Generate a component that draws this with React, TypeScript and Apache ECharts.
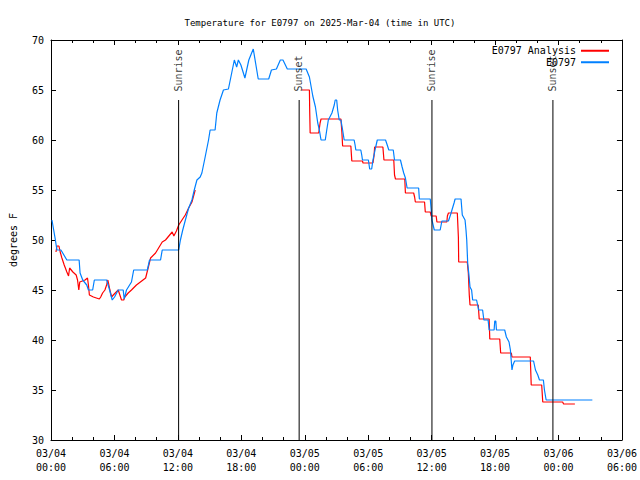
import React, { useEffect, useRef } from 'react';
import * as echarts from 'echarts';

// ---------- data (hours since 03/04 00:00 UTC, degrees F) ----------
const titleText = 'Temperature for E0797 on 2025-Mar-04 (time in UTC)';
const seriesNames = ['E0797 Analysis', 'E0797'];

const xTickLabels = [
  '03/04\n00:00', '03/04\n06:00', '03/04\n12:00', '03/04\n18:00',
  '03/05\n00:00', '03/05\n06:00', '03/05\n12:00', '03/05\n18:00',
  '03/06\n00:00', '03/06\n06:00',
];

const obsHours = [
  0.09, 0.40, 0.56, 0.94, 1.50, 2.66, 2.75, 3.00, 3.38, 3.54,
  3.94, 4.10, 5.26, 5.54, 5.79, 6.01, 6.36, 6.83, 6.92, 7.14,
  7.61, 7.82, 9.11, 9.32, 10.36, 10.52, 12.08, 12.24, 12.46, 12.71,
  13.02, 13.33, 13.55, 13.80, 14.11, 14.27, 14.58, 14.90, 15.05, 15.52,
  15.68, 15.99, 16.31, 16.78, 17.09, 17.34, 17.56, 17.72, 17.96, 18.34,
  18.71, 19.13, 19.60, 20.59, 20.85, 21.32, 21.69, 21.94, 22.35, 24.13,
  24.44, 24.76, 25.01, 25.23, 25.38, 25.54, 25.94, 26.08, 26.23, 26.57,
  26.79, 26.88, 27.02, 27.11, 27.26, 27.42, 27.58, 27.73, 28.67, 28.76,
  28.83, 29.30, 29.39, 29.46, 30.02, 30.14, 30.33, 30.45, 30.71, 30.86,
  31.64, 31.80, 31.95, 32.37, 32.49, 33.05, 33.21, 33.36, 33.52, 33.68,
  34.77, 34.84, 35.87, 35.96, 36.03, 36.25, 36.81, 36.97, 37.59, 37.81,
  38.12, 38.22, 38.78, 38.90, 39.16, 39.25, 39.32, 39.41, 39.53, 39.63,
  39.78, 39.88, 40.25, 40.35, 40.44, 40.82, 40.94, 41.34, 41.44, 41.91,
  41.97, 42.07, 42.13, 42.91, 43.07, 43.32, 43.45, 43.54, 43.60, 43.69,
  43.85, 45.64, 45.82, 46.04, 46.20, 46.57, 46.67, 46.83, 51.20,
];
const obsTemps = [
  52.0, 50.1, 49.0, 49.0, 48.0, 48.0, 46.7, 46.0, 45.5, 45.0,
  45.0, 46.0, 46.0, 45.0, 44.0, 44.3, 45.0, 45.0, 44.1, 45.0,
  45.8, 47.0, 47.0, 48.0, 48.0, 49.0, 49.0, 50.0, 51.0, 52.0,
  53.2, 54.0, 55.0, 56.0, 56.3, 56.7, 58.3, 60.0, 61.0, 61.0,
  62.7, 64.0, 65.0, 65.1, 66.7, 68.0, 67.3, 68.0, 67.5, 66.2,
  68.0, 69.1, 66.1, 66.1, 67.0, 67.1, 68.0, 68.0, 67.1, 67.1,
  66.3, 64.4, 63.3, 61.7, 61.0, 60.0, 60.0, 61.0, 62.0, 62.7,
  63.5, 64.0, 64.0, 63.0, 62.0, 62.0, 61.0, 60.0, 60.0, 59.5,
  59.0, 59.0, 58.5, 58.0, 58.0, 57.1, 57.1, 58.0, 59.3, 60.0,
  60.0, 59.5, 59.0, 59.0, 58.0, 58.0, 57.3, 56.7, 56.2, 55.2,
  55.2, 54.1, 54.1, 53.0, 52.0, 51.0, 51.0, 51.9, 51.9, 52.6,
  53.7, 54.1, 54.1, 52.5, 52.0, 51.0, 50.0, 47.7, 46.5, 45.3,
  45.0, 44.0, 44.0, 43.5, 43.0, 43.0, 42.0, 42.0, 41.0, 41.0,
  41.9, 41.9, 41.0, 41.0, 40.3, 39.8, 39.0, 37.8, 37.0, 37.5,
  37.9, 37.9, 37.0, 36.5, 36.0, 36.0, 35.0, 34.0, 34.0,
];

const anaHoursA = [
  0.47, 0.56, 0.75, 0.87, 1.03, 1.25, 1.50, 1.66, 1.76, 2.07,
  2.38, 2.51, 2.63, 2.72, 3.22, 3.45, 3.54, 3.63, 4.01, 4.57,
  4.70, 4.88, 5.10, 5.26, 5.38, 5.57, 5.73, 5.89, 6.36, 6.67,
  6.88, 6.98, 7.30, 7.61, 8.08, 8.95, 9.42, 9.89, 10.52, 10.83,
  11.46, 11.62, 11.86, 12.08, 12.39, 12.70, 13.02, 13.33, 13.64,
];
const anaTempsA = [
  48.8, 49.4, 49.4, 48.8, 48.2, 47.5, 46.8, 46.4, 47.2, 46.8,
  46.5, 46.0, 45.0, 45.8, 46.0, 46.2, 45.5, 44.5, 44.3, 44.1,
  44.3, 44.7, 45.0, 45.5, 46.0, 45.0, 44.3, 44.5, 45.0, 44.0,
  44.0, 44.3, 44.7, 45.0, 45.5, 46.2, 48.2, 48.7, 49.8, 50.0,
  50.8, 50.4, 50.9, 51.5, 52.0, 52.5, 53.2, 53.8, 55.0,
];
const anaHoursB = [
  23.70, 24.44, 24.47, 24.51, 25.32, 25.45, 25.54, 27.42, 27.51, 27.58,
  28.36, 28.45, 29.46, 29.51, 30.45, 30.55, 30.61, 31.39, 31.49, 32.42,
  32.49, 32.58, 33.46, 33.52, 34.30, 34.39, 34.46, 35.33, 35.40, 35.87,
  35.96, 36.43, 36.50, 37.44, 37.49, 37.59, 38.43, 38.53, 38.56, 39.37,
  39.47, 39.56, 39.63, 40.41, 40.50, 41.44, 41.50, 42.44, 42.53, 43.54,
  43.60, 45.33, 45.42, 46.41, 46.51, 48.39, 48.48, 49.55,
];
const anaTempsB = [
  65.0, 65.0, 62.8, 60.7, 60.7, 61.7, 62.1, 62.1, 60.8, 59.4,
  59.4, 57.9, 57.9, 57.7, 57.7, 58.4, 59.3, 59.3, 58.0, 58.0,
  56.5, 56.1, 56.1, 54.7, 54.7, 54.3, 53.8, 53.8, 52.8, 52.8,
  52.4, 52.4, 51.8, 51.8, 52.4, 52.7, 52.7, 50.3, 47.8, 47.8,
  46.7, 44.5, 43.5, 43.5, 42.1, 42.1, 40.1, 40.1, 38.7, 38.7,
  38.3, 38.3, 35.5, 35.5, 33.8, 33.8, 33.6, 33.6,
];

const eventNames = ['Sunrise', 'Sunset', 'Sunrise', 'Sunset'];
const eventHours = [12.07, 23.47, 36.03, 47.47];
const eventTop = 64;
const yMin = 30;
const yMax = 70;

// ---------- styling ----------
const FONT = '"DejaVu Sans Mono", "Liberation Mono", monospace';
const RED = '#ff0000';
const BLUE = '#0080ff';

const zip = (xs: number[], ys: number[]) => xs.map((x, i) => [x, ys[i]]);

export default function App() {
  const ref = useRef<HTMLDivElement>(null);

  useEffect(() => {
    if (!ref.current) return;
    const chart = echarts.init(ref.current, undefined, { renderer: 'svg' });

    const textStyle = { fontFamily: FONT, fontSize: 10, color: '#000' };
    const axisCommon = {
      axisLine: { show: true, onZero: false, lineStyle: { color: '#000', width: 1 } },
      axisTick: { show: true, inside: true, length: 5, lineStyle: { color: '#000', width: 1 } },
      splitLine: { show: false },
    };

    const analysisData = [
      ...zip(anaHoursA, anaTempsA),
      [18, null],
      ...zip(anaHoursB, anaTempsB),
    ];

    const eventLineSeries = eventHours.map((h) => ({
      type: 'line',
      name: 'event',
      data: [[h, yMin], [h, eventTop]],
      symbol: 'none',
      lineStyle: { color: '#000', width: 1 },
      itemStyle: { color: '#000' },
      silent: true,
      z: 4,
    }));

    const option: any = {
      animation: false,
      backgroundColor: '#ffffff',
      title: {
        text: titleText,
        left: 'center',
        top: 13,
        textStyle: { ...textStyle, fontSize: 9, fontWeight: 'normal' },
      },
      legend: {
        data: seriesNames,
        orient: 'vertical',
        align: 'right',
        right: 31,
        top: 45,
        padding: 0,
        itemGap: 0,
        itemWidth: 28,
        itemHeight: 2,
        icon: 'rect',
        selectedMode: false,
        textStyle: { ...textStyle, lineHeight: 11.5 },
      },
      grid: { left: 47, right: 17, top: 40, bottom: 40 },
      xAxis: [
        {
          type: 'value',
          position: 'bottom',
          min: 0,
          max: 54,
          interval: 6,
          ...axisCommon,
          minorTick: { show: true, splitNumber: 3, length: 3, lineStyle: { color: '#000', width: 1 } },
          axisLabel: {
            ...textStyle,
            margin: 6,
            lineHeight: 14,
            formatter: (v: number) => xTickLabels[Math.round(v / 6)] ?? '',
          },
        },
        {
          type: 'value',
          position: 'top',
          min: 0,
          max: 54,
          interval: 6,
          ...axisCommon,
          minorTick: { show: true, splitNumber: 3, length: 3, lineStyle: { color: '#000', width: 1 } },
          axisLabel: { show: false },
        },
      ],
      yAxis: [
        {
          type: 'value',
          position: 'left',
          min: yMin,
          max: yMax,
          interval: 5,
          ...axisCommon,
          axisLabel: { ...textStyle, margin: 7 },
          name: 'degrees F',
          nameLocation: 'middle',
          nameGap: 33,
          nameTextStyle: textStyle,
        },
        {
          type: 'value',
          position: 'right',
          min: yMin,
          max: yMax,
          interval: 5,
          ...axisCommon,
          axisLabel: { show: false },
        },
      ],
      series: [
        {
          type: 'line',
          name: seriesNames[0],
          data: analysisData,
          symbol: 'none',
          connectNulls: false,
          color: RED,
          lineStyle: { color: RED, width: 1.2 },
          z: 2,
        },
        {
          type: 'line',
          name: seriesNames[1],
          data: zip(obsHours, obsTemps),
          symbol: 'none',
          color: BLUE,
          lineStyle: { color: BLUE, width: 1.2 },
          z: 3,
        },
        ...eventLineSeries,
        {
          type: 'scatter',
          name: 'eventLabels',
          data: eventHours.map((h) => [h, eventTop]),
          symbolSize: 1,
          itemStyle: { color: 'rgba(0,0,0,0)' },
          silent: true,
          z: 5,
          label: {
            show: true,
            formatter: (p: any) => eventNames[p.dataIndex],
            position: [0, -8],
            rotate: 90,
            align: 'left',
            verticalAlign: 'middle',
            ...textStyle,
          },
        },
      ],
    };

    chart.setOption(option);
    return () => chart.dispose();
  }, []);

  return (
    <div
      ref={ref}
      style={{ position: 'absolute', left: 0, top: 0, width: 640, height: 480 }}
    />
  );
}
